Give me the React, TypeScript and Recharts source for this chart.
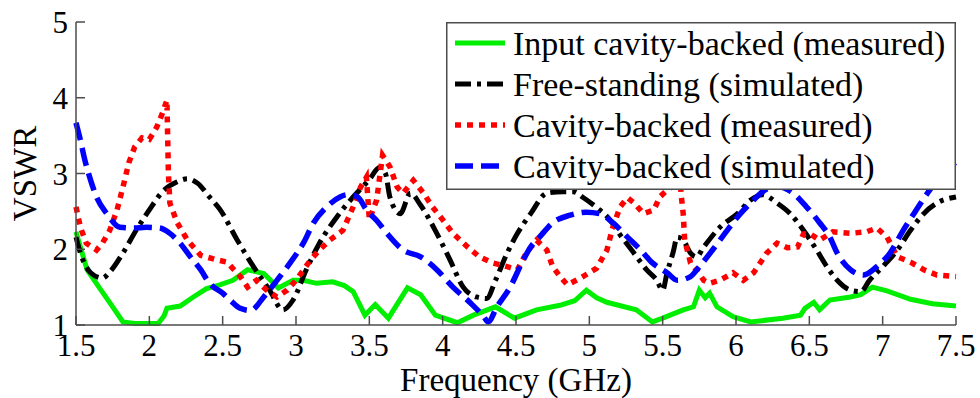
import { LineChart, Line, XAxis, YAxis, Legend } from 'recharts';

const FONT = "'Liberation Serif', 'Times New Roman', Times, 'DejaVu Serif', serif";
const AXIS = '#4d4d4d';

const xTicks = [1.5, 2, 2.5, 3, 3.5, 4, 4.5, 5, 5.5, 6, 6.5, 7, 7.5];
const yTicks = [1, 2, 3, 4, 5];

// Input cavity-backed (measured)
const inputFreq = [1.5, 1.575, 1.66, 1.75, 1.82, 1.9, 2.0, 2.06, 2.1, 2.12, 2.21, 2.3, 2.39, 2.48, 2.57, 2.67, 2.78, 2.88, 2.98, 3.05, 3.14, 3.25, 3.33, 3.39, 3.47, 3.54, 3.63, 3.76, 3.85, 3.95, 4.1, 4.21, 4.36, 4.49, 4.64, 4.8, 4.9, 4.98, 5.05, 5.12, 5.32, 5.43, 5.5, 5.64, 5.71, 5.75, 5.79, 5.82, 5.87, 5.98, 6.1, 6.32, 6.44, 6.47, 6.53, 6.57, 6.64, 6.78, 6.85, 6.93, 7.03, 7.19, 7.34, 7.5];
const inputVswr = [2.23, 1.73, 1.49, 1.24, 1.04, 1.02, 1.02, 1.02, 1.12, 1.22, 1.25, 1.37, 1.48, 1.53, 1.59, 1.73, 1.68, 1.49, 1.59, 1.59, 1.55, 1.57, 1.52, 1.44, 1.13, 1.27, 1.09, 1.49, 1.4, 1.13, 1.03, 1.13, 1.24, 1.09, 1.2, 1.26, 1.32, 1.46, 1.36, 1.3, 1.2, 1.04, 1.09, 1.2, 1.24, 1.46, 1.36, 1.42, 1.24, 1.11, 1.04, 1.09, 1.13, 1.22, 1.3, 1.2, 1.33, 1.37, 1.4, 1.5, 1.45, 1.34, 1.28, 1.25];

// Free-standing (simulated)
const freeFreq = [1.5, 1.53, 1.6, 1.68, 1.73, 1.82, 1.91, 2.0, 2.09, 2.19, 2.26, 2.33, 2.41, 2.48, 2.6, 2.71, 2.82, 2.91, 2.98, 3.07, 3.16, 3.28, 3.39, 3.5, 3.57, 3.61, 3.64, 3.71, 3.78, 3.85, 3.96, 4.05, 4.14, 4.23, 4.3, 4.36, 4.44, 4.51, 4.6, 4.71, 4.82, 4.89, 4.96, 5.05, 5.14, 5.21, 5.3, 5.39, 5.46, 5.5, 5.53, 5.57, 5.6, 5.64, 5.69, 5.73, 5.78, 5.89, 6.01, 6.1, 6.18, 6.28, 6.37, 6.46, 6.55, 6.62, 6.69, 6.78, 6.85, 6.91, 7.0, 7.1, 7.19, 7.28, 7.37, 7.5];
const freeVswr = [2.16, 1.95, 1.69, 1.62, 1.7, 1.95, 2.25, 2.52, 2.76, 2.89, 2.93, 2.87, 2.69, 2.53, 2.12, 1.77, 1.46, 1.2, 1.33, 1.73, 2.08, 2.43, 2.69, 2.92, 3.08, 3.0, 2.69, 2.47, 2.74, 2.58, 2.21, 1.86, 1.5, 1.37, 1.35, 1.59, 1.95, 2.21, 2.47, 2.74, 2.76, 2.76, 2.68, 2.55, 2.39, 2.19, 1.96, 1.73, 1.59, 1.46, 1.69, 1.95, 2.16, 2.12, 1.95, 1.9, 2.03, 2.29, 2.47, 2.65, 2.72, 2.61, 2.47, 2.25, 1.99, 1.77, 1.59, 1.46, 1.44, 1.59, 1.77, 1.99, 2.25, 2.47, 2.61, 2.69];

// Cavity-backed (measured)
const cavMeasFreq = [1.5, 1.53, 1.57, 1.64, 1.68, 1.73, 1.78, 1.82, 1.86, 1.9, 1.95, 2.0, 2.05, 2.09, 2.12, 2.125, 2.13, 2.14, 2.19, 2.26, 2.35, 2.46, 2.53, 2.62, 2.67, 2.73, 2.8, 2.87, 2.94, 3.0, 3.1, 3.16, 3.23, 3.32, 3.39, 3.44, 3.48, 3.5, 3.55, 3.59, 3.64, 3.69, 3.73, 3.8, 3.87, 3.93, 4.0, 4.07, 4.17, 4.25, 4.34, 4.44, 4.51, 4.57, 4.64, 4.71, 4.75, 4.8, 4.85, 4.94, 5.05, 5.12, 5.16, 5.21, 5.26, 5.3, 5.37, 5.44, 5.48, 5.53, 5.58, 5.62, 5.625, 5.64, 5.65, 5.69, 5.73, 5.78, 5.82, 5.89, 5.98, 6.05, 6.12, 6.21, 6.28, 6.35, 6.42, 6.46, 6.5, 6.57, 6.66, 6.78, 6.89, 6.96, 7.03, 7.1, 7.19, 7.28, 7.37, 7.5];
const cavMeasVswr = [2.56, 2.29, 2.08, 1.99, 2.08, 2.25, 2.52, 2.82, 3.14, 3.35, 3.47, 3.45, 3.61, 3.8, 3.97, 3.48, 3.0, 2.61, 2.35, 2.12, 1.92, 1.86, 1.83, 1.64, 1.5, 1.59, 1.46, 1.37, 1.46, 1.59, 1.86, 1.99, 2.12, 2.25, 2.56, 2.82, 2.95, 2.39, 2.65, 3.24, 3.09, 2.82, 2.74, 2.91, 2.74, 2.56, 2.39, 2.21, 2.03, 1.9, 1.82, 1.77, 1.73, 1.95, 2.12, 1.99, 1.77, 1.64, 1.53, 1.62, 1.75, 1.99, 2.29, 2.56, 2.68, 2.62, 2.47, 2.52, 2.69, 2.78, 2.85, 2.95, 2.74, 2.47, 2.12, 1.82, 1.73, 1.59, 1.55, 1.59, 1.69, 1.59, 1.69, 1.95, 2.08, 2.02, 2.03, 2.2, 2.21, 2.12, 2.23, 2.21, 2.23, 2.28, 2.16, 1.9, 1.83, 1.73, 1.66, 1.64];

// Cavity-backed (simulated)
const cavSimFreq = [1.5, 1.53, 1.56, 1.6, 1.64, 1.71, 1.8, 1.89, 1.98, 2.07, 2.14, 2.21, 2.28, 2.35, 2.41, 2.5, 2.55, 2.62, 2.69, 2.78, 2.87, 2.96, 3.05, 3.12, 3.21, 3.3, 3.35, 3.42, 3.48, 3.55, 3.62, 3.73, 3.85, 3.96, 4.07, 4.19, 4.28, 4.31, 4.37, 4.46, 4.55, 4.6, 4.66, 4.75, 4.87, 4.98, 5.07, 5.16, 5.26, 5.35, 5.43, 5.53, 5.6, 5.69, 5.75, 5.84, 5.94, 6.03, 6.12, 6.18, 6.28, 6.39, 6.48, 6.57, 6.64, 6.69, 6.78, 6.87, 6.96, 7.05, 7.14, 7.23, 7.32, 7.41, 7.5];
const cavSimVswr = [3.67, 3.44, 3.18, 2.91, 2.69, 2.47, 2.29, 2.28, 2.29, 2.28, 2.21, 2.08, 1.9, 1.73, 1.55, 1.42, 1.33, 1.22, 1.19, 1.37, 1.59, 1.82, 2.08, 2.35, 2.56, 2.69, 2.72, 2.69, 2.52, 2.38, 2.21, 1.99, 1.9, 1.73, 1.5, 1.29, 1.11, 1.04, 1.24, 1.5, 1.86, 2.03, 2.16, 2.35, 2.45, 2.49, 2.47, 2.35, 2.16, 1.99, 1.82, 1.69, 1.59, 1.64, 1.77, 1.99, 2.25, 2.47, 2.65, 2.76, 2.83, 2.74, 2.56, 2.35, 2.16, 1.95, 1.73, 1.66, 1.77, 1.95, 2.25, 2.52, 2.78, 3.0, 3.15];

const toPoints = (freq: number[], vswr: number[]) => freq.map((f, i) => ({ freq: f, vswr: vswr[i] }));

const series = [
  { name: 'Input cavity-backed (measured)', data: toPoints(inputFreq, inputVswr), color: '#00ee00', width: 5, dash: undefined, curve: 'linear' },
  { name: 'Free-standing (simulated)', data: toPoints(freeFreq, freeVswr), color: '#000000', width: 5, dash: '16 6 4 6', curve: 'monotone' },
  { name: 'Cavity-backed (measured)', data: toPoints(cavMeasFreq, cavMeasVswr), color: '#ff0000', width: 5.5, dash: '6 6', curve: 'linear' },
  { name: 'Cavity-backed (simulated)', data: toPoints(cavSimFreq, cavSimVswr), color: '#0000ff', width: 5.5, dash: '18 8', curve: 'monotone' },
];

const textStyle = { fontFamily: FONT };

function BottomTick({ x, y, payload }: any) {
  return (
    <g>
      <line x1={x} y1={y} x2={x} y2={y - 9} stroke={AXIS} strokeWidth={1.5} />
      <text x={x} y={y + 31} textAnchor="middle" style={textStyle} fontSize={31} fill="#000">
        {payload.value}
      </text>
    </g>
  );
}

function TopTick({ x, y }: any) {
  return <line x1={x} y1={y} x2={x} y2={y + 9} stroke={AXIS} strokeWidth={1.5} />;
}

function LeftTick({ x, y, payload }: any) {
  return (
    <g>
      <line x1={x} y1={y} x2={x + 9} y2={y} stroke={AXIS} strokeWidth={1.5} />
      <text x={x - 8} y={y + 11} textAnchor="end" style={textStyle} fontSize={31} fill="#000">
        {payload.value}
      </text>
    </g>
  );
}

function RightTick({ x, y }: any) {
  return <line x1={x} y1={y} x2={x - 9} y2={y} stroke={AXIS} strokeWidth={1.5} />;
}

function LegendBox() {
  return (
    <svg width={510} height={168} style={{ display: 'block' }}>
      <rect x={0.75} y={0.75} width={508.5} height={166.5} fill="#fff" stroke={AXIS} strokeWidth={1.5} />
      {series.map((s, i) => (
        <g key={s.name}>
          <line x1={9} x2={59} y1={21 + 41 * i} y2={21 + 41 * i} stroke={s.color} strokeWidth={s.width} strokeDasharray={s.dash} />
          <text x={67} y={33 + 41 * i} style={textStyle} fontSize={34} fill="#000">
            {s.name}
          </text>
        </g>
      ))}
    </svg>
  );
}

export default function App() {
  return (
    <div>
      <style>{'body{margin:0}'}</style>
      <LineChart width={980} height={398} margin={{ top: 22, right: 24, left: 0, bottom: 0 }}>
        <XAxis
          dataKey="freq"
          type="number"
          domain={[1.5, 7.5]}
          ticks={xTicks}
          height={73}
          tickSize={0}
          tickMargin={0}
          tick={<BottomTick />}
          axisLine={{ stroke: AXIS, strokeWidth: 1.5 }}
          allowDuplicatedCategory={false}
          label={{
            content: ({ viewBox }: any) => (
              <text x={viewBox.x + viewBox.width / 2} y={viewBox.y + 66} textAnchor="middle" style={textStyle} fontSize={33} fill="#000">
                Frequency (GHz)
              </text>
            ),
          }}
        />
        <XAxis
          xAxisId="top"
          orientation="top"
          dataKey="freq"
          type="number"
          domain={[1.5, 7.5]}
          ticks={xTicks}
          height={0}
          tickSize={0}
          tickMargin={0}
          tick={<TopTick />}
          axisLine={{ stroke: AXIS, strokeWidth: 1.5 }}
        />
        <YAxis
          type="number"
          domain={[1, 5]}
          ticks={yTicks}
          width={76}
          tickSize={0}
          tickMargin={0}
          tick={<LeftTick />}
          axisLine={{ stroke: AXIS, strokeWidth: 1.5 }}
          label={{
            content: ({ viewBox }: any) => {
              const cy = viewBox.y + viewBox.height / 2;
              return (
                <text x={36} y={cy} transform={`rotate(-90, 36, ${cy})`} textAnchor="middle" style={textStyle} fontSize={33} fill="#000">
                  VSWR
                </text>
              );
            },
          }}
        />
        <YAxis
          yAxisId="right"
          orientation="right"
          type="number"
          domain={[1, 5]}
          ticks={yTicks}
          width={0}
          tickSize={0}
          tickMargin={0}
          tick={<RightTick />}
          axisLine={{ stroke: AXIS, strokeWidth: 1.5 }}
        />
        {series.map((s) => (
          <Line
            key={s.name}
            data={s.data}
            dataKey="vswr"
            name={s.name}
            type={s.curve as any}
            stroke={s.color}
            strokeWidth={s.width}
            strokeDasharray={s.dash}
            dot={false}
            activeDot={false}
            isAnimationActive={false}
          />
        ))}
        <Legend
          layout="vertical"
          verticalAlign="middle"
          align="center"
          wrapperStyle={{ left: 446, top: 22, width: 510, height: 168 }}
          content={() => <LegendBox />}
        />
      </LineChart>
    </div>
  );
}
